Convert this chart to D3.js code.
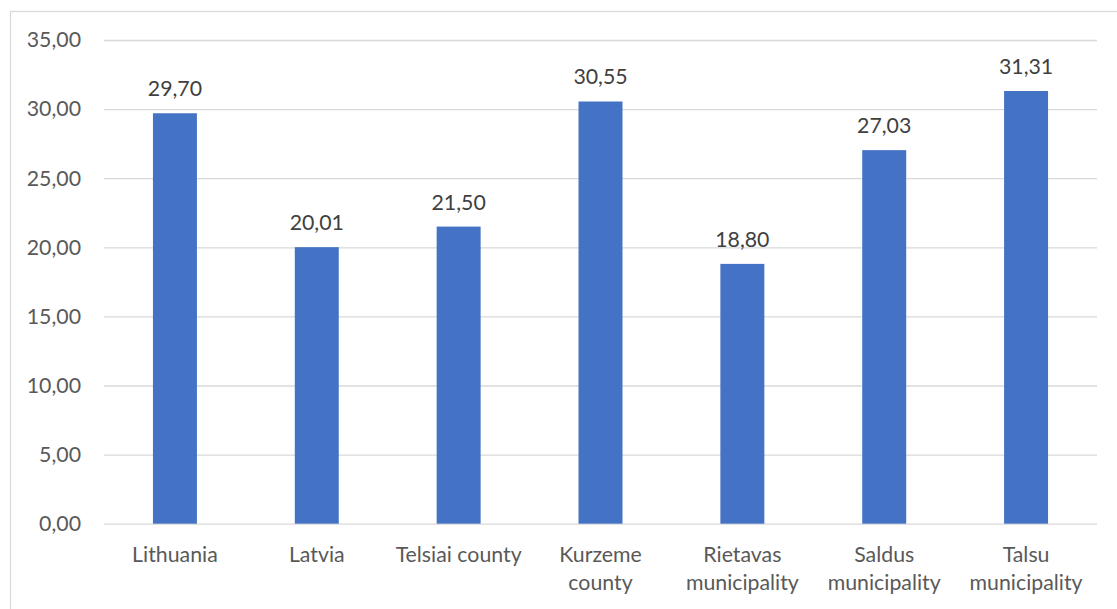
<!DOCTYPE html>
<html><head><meta charset="utf-8">
<script src="https://cdn.jsdelivr.net/npm/d3@7"></script>
<style>body{margin:0;background:#fff;} text{font-family:Lato, "Open Sans", sans-serif;}</style>
</head><body>
<svg id="c" width="1117" height="609"></svg>
<script>
const categories = ["Lithuania","Latvia","Telsiai county","Kurzeme county","Rietavas municipality","Saldus municipality","Talsu municipality"];
const categoryLines = [["Lithuania"],["Latvia"],["Telsiai county"],["Kurzeme","county"],["Rietavas","municipality"],["Saldus","municipality"],["Talsu","municipality"]];
const values = [29.70,20.01,21.50,30.55,18.80,27.03,31.31];
const yTicks = [0,5,10,15,20,25,30,35];

const svg = d3.select("#c");
const m = {left:104, right:1097, top:40, bottom:523.7};
const fmt = v => v.toFixed(2).replace(".", ",");
const FS = 21.3;

svg.append("rect").attr("x",10.5).attr("y",11.5).attr("width",1120).attr("height",620)
  .attr("fill","#fff").attr("stroke","#d9d9d9").attr("stroke-width",1.3);

const x = d3.scaleBand().domain(categories).range([m.left,m.right]).paddingInner(0.69).paddingOuter(0.345);
const y = d3.scaleLinear().domain([0,35]).range([m.bottom,m.top]);

const yAxis = svg.append("g").attr("transform",`translate(${m.left},0)`)
  .call(d3.axisLeft(y).tickValues(yTicks).tickFormat(fmt).tickSize(-(m.right-m.left)).tickPadding(23));
yAxis.select(".domain").remove();
yAxis.selectAll(".tick line").attr("stroke","#d9d9d9").attr("stroke-width",1.3);
yAxis.selectAll(".tick text").attr("fill","#595959").attr("font-size",FS).attr("font-family","Lato");

svg.append("g").selectAll("rect").data(values).join("rect")
  .attr("x",(d,i)=>x(categories[i])).attr("width",x.bandwidth())
  .attr("y",d=>y(d)).attr("height",d=>y(0)-y(d)).attr("fill","#4472c4");

svg.append("g").selectAll("text").data(values).join("text")
  .attr("x",(d,i)=>x(categories[i])+x.bandwidth()/2).attr("y",d=>y(d)-17)
  .attr("text-anchor","middle").attr("fill","#404040").attr("font-size",FS).text(fmt);

const xl = svg.append("g");
categoryLines.forEach((lines,i)=>{
  const cx = x(categories[i])+x.bandwidth()/2;
  const t = xl.append("text").attr("x",cx).attr("y",562)
    .attr("text-anchor","middle").attr("fill","#595959").attr("font-size",FS);
  lines.forEach((l,j)=>t.append("tspan").attr("x",cx).attr("dy",j?28:0).text(l));
});
</script>
</body></html>
